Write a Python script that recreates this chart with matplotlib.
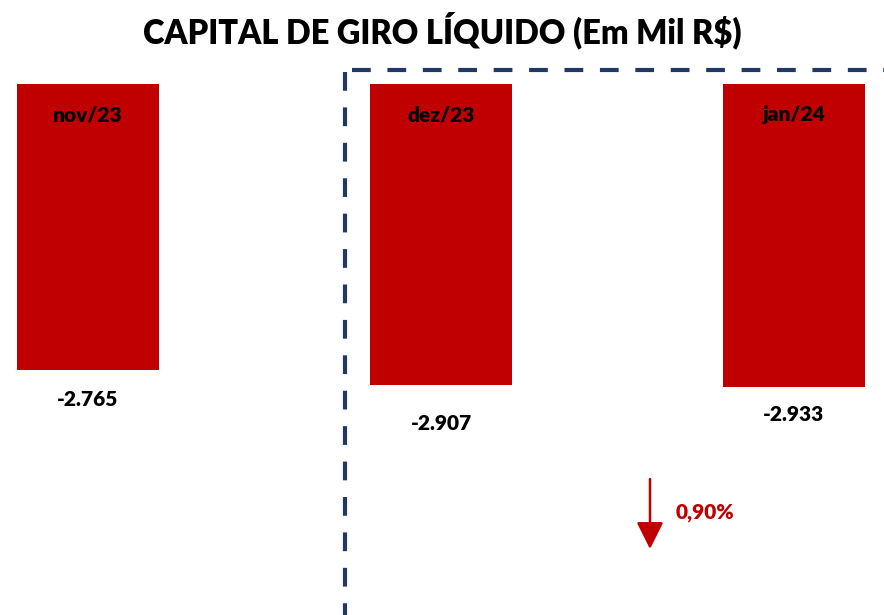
import numpy as np
from matplotlib import pyplot as plt

# data
meses = ["nov/23", "dez/23", "jan/24"]
valores = [-2765, -2907, -2933]
rotulos = ["-2.765", "-2.907", "-2.933"]
variacao = "0,90%"

plt.rcParams['font.family'] = ['Lato', 'DejaVu Sans']

vermelho = "#C00000"
azul = "#203864"

fig = plt.figure(figsize=(8.84, 6.15), dpi=100)
ax = fig.add_axes([0, 0, 1, 1])
x = np.arange(len(meses))
ax.bar(x, valores, width=0.402, color=vermelho)

# pixel mapping: bar centres 88/441/794 px, zero line at 84 px from top
esc = 286 / 2765
ax.set_xlim((0 - 88) / 353, (884 - 88) / 353)
ax.set_ylim(-(615 - 84) / esc, 84 / esc)
ax.axis("off")

# category labels inside bars, values below
offs = [30, 39, 27]
for i, (m, v, r) in enumerate(zip(meses, valores, rotulos)):
    ax.text(i, -31 / esc, m, ha="center", va="center", fontsize=15, fontweight="heavy")
    ax.text(i, v - offs[i] / esc, r, ha="center", va="center", fontsize=15, fontweight="heavy")

fig.text(0.5, 1 - 30 / 615, "CAPITAL DE GIRO LÍQUIDO (Em Mil R$)", ha="center", va="center",
         fontsize=23.5, fontweight="heavy")

# dashed frame
fig.add_artist(plt.Line2D([345 / 884, 345 / 884], [1 - 72 / 615, 0], color=azul, lw=3,
                          dashes=(4.5, 4), transform=fig.transFigure))
fig.add_artist(plt.Line2D([352 / 884, 1], [1 - 69.5 / 615, 1 - 69.5 / 615], color=azul, lw=3,
                          dashes=(4.5, 4), transform=fig.transFigure))

# arrow + variation
fig.add_artist(plt.matplotlib.patches.FancyArrowPatch(
    (650 / 884, 1 - 479 / 615), (650 / 884, 1 - 549 / 615), transform=fig.transFigure,
    arrowstyle="-|>,head_length=1.1,head_width=0.55", mutation_scale=15, color=vermelho, lw=1.8,
    shrinkA=0, shrinkB=0))
fig.text(705 / 884, 1 - 513 / 615, variacao, ha="center", va="center", fontsize=15,
         fontweight="heavy", color=vermelho)

fig.savefig("out.png", dpi=100)
